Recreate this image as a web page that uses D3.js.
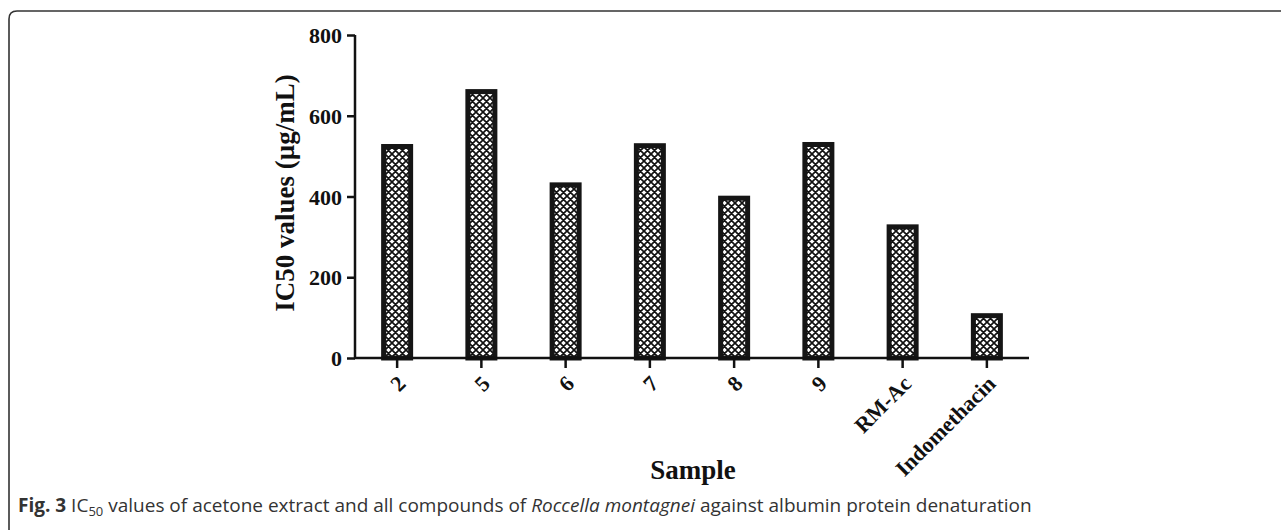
<!DOCTYPE html>
<html lang="en">
<head>
  <meta charset="UTF-8" />
  <title>IC50 values</title>
  <script src="https://d3js.org/d3.v7.min.js"></script>
  <style>
    body {
      margin: 0;
      background: white;
    }
    svg {
      display: block;
    }
    .axis text {
      font-family: "Liberation Serif", "DejaVu Serif", serif;
      font-weight: bold;
      font-size: 22px;
      fill: #111;
    }
    .title {
      font-family: "Liberation Serif", "DejaVu Serif", serif;
      font-weight: bold;
      font-size: 27px;
      fill: #111;
    }
    .caption {
      font-family: "Open Sans", "Noto Sans", sans-serif;
      font-size: 19px;
      fill: #333;
    }
  </style>
</head>
<body>
  <svg width="1281" height="530"></svg>

  <script>
    const samples = ["2", "5", "6", "7", "8", "9", "RM-Ac", "Indomethacin"];
    const ic50 = [530, 666, 435, 532, 402, 535, 331, 111];
    const yTicks = [0, 200, 400, 600, 800];

    const svg = d3.select("svg");

    // panel frame: top and left edges with rounded corner
    svg.append("path")
      .attr("d", "M9,530 L9,19 Q9,11 17,11 L1281,11")
      .attr("fill", "none")
      .attr("stroke", "#333")
      .attr("stroke-width", 1.6);

    // crosshatch fill
    const pat = svg.append("defs").append("pattern")
      .attr("id", "hatch")
      .attr("patternUnits", "userSpaceOnUse")
      .attr("width", 7)
      .attr("height", 7);
    pat.append("rect").attr("width", 7).attr("height", 7).attr("fill", "white");
    pat.append("path")
      .attr("d", "M0,0L7,7M7,0L0,7M-1,6L1,8M6,-1L8,1M-1,1L1,-1M6,8L8,6")
      .attr("stroke", "#111")
      .attr("stroke-width", 1.7);

    const x = d3.scaleBand()
      .domain(samples)
      .range([355, 1029])
      .paddingInner(0.62)
      .paddingOuter(0.31);

    const y = d3.scaleLinear()
      .domain([0, 800])
      .range([358, 35]);

    const bw = 27;
    svg.append("g")
      .selectAll("rect")
      .data(samples)
      .join("rect")
      .attr("x", (d, i) => x(d) + x.bandwidth() / 2 - bw / 2)
      .attr("y", (d, i) => y(ic50[i]) + 2.5)
      .attr("width", bw)
      .attr("height", (d, i) => y(0) - y(ic50[i]) - 2.5)
      .attr("fill", "url(#hatch)")
      .attr("stroke", "#151515")
      .attr("stroke-width", 5);

    // y axis
    const yAxis = svg.append("g")
      .attr("class", "axis")
      .attr("transform", "translate(355,0)")
      .call(d3.axisLeft(y).tickValues(yTicks).tickSize(8).tickPadding(5));
    yAxis.selectAll("line, path").attr("stroke", "#111").attr("stroke-width", 2.5);
    yAxis.select(".domain").attr("d", "M0,35V358");
    yAxis.selectAll("text").attr("dy", "0.35em");

    // x axis
    const xAxis = svg.append("g")
      .attr("class", "axis")
      .attr("transform", "translate(0,358)")
      .call(d3.axisBottom(x).tickSize(10).tickSizeOuter(0));
    xAxis.selectAll("line, path").attr("stroke", "#111").attr("stroke-width", 2.5);
    xAxis.select(".domain").attr("d", "M354,0H1029");
    xAxis.selectAll("text")
      .attr("text-anchor", "end")
      .attr("dy", 0)
      .attr("transform", "translate(10,27) rotate(-45)")
      .attr("y", 0)
      .attr("x", 0);

    // axis titles
    svg.append("text")
      .attr("class", "title")
      .attr("transform", "translate(294,193) rotate(-90)")
      .attr("text-anchor", "middle")
      .text("IC50 values (µg/mL)");

    svg.append("text")
      .attr("class", "title")
      .attr("x", 693)
      .attr("y", 479)
      .attr("text-anchor", "middle")
      .text("Sample");

    // caption
    const cap = svg.append("text")
      .attr("class", "caption")
      .attr("x", 18)
      .attr("y", 512);
    cap.append("tspan").style("font-weight", "bold").text("Fig. 3");
    cap.append("tspan").text(" IC");
    cap.append("tspan").attr("dy", 4).style("font-size", "13px").text("50");
    cap.append("tspan").attr("dy", -4).text(" values of acetone extract and all compounds of ");
    cap.append("tspan").style("font-style", "italic").text("Roccella montagnei");
    cap.append("tspan").text(" against albumin protein denaturation");
  </script>
</body>
</html>
